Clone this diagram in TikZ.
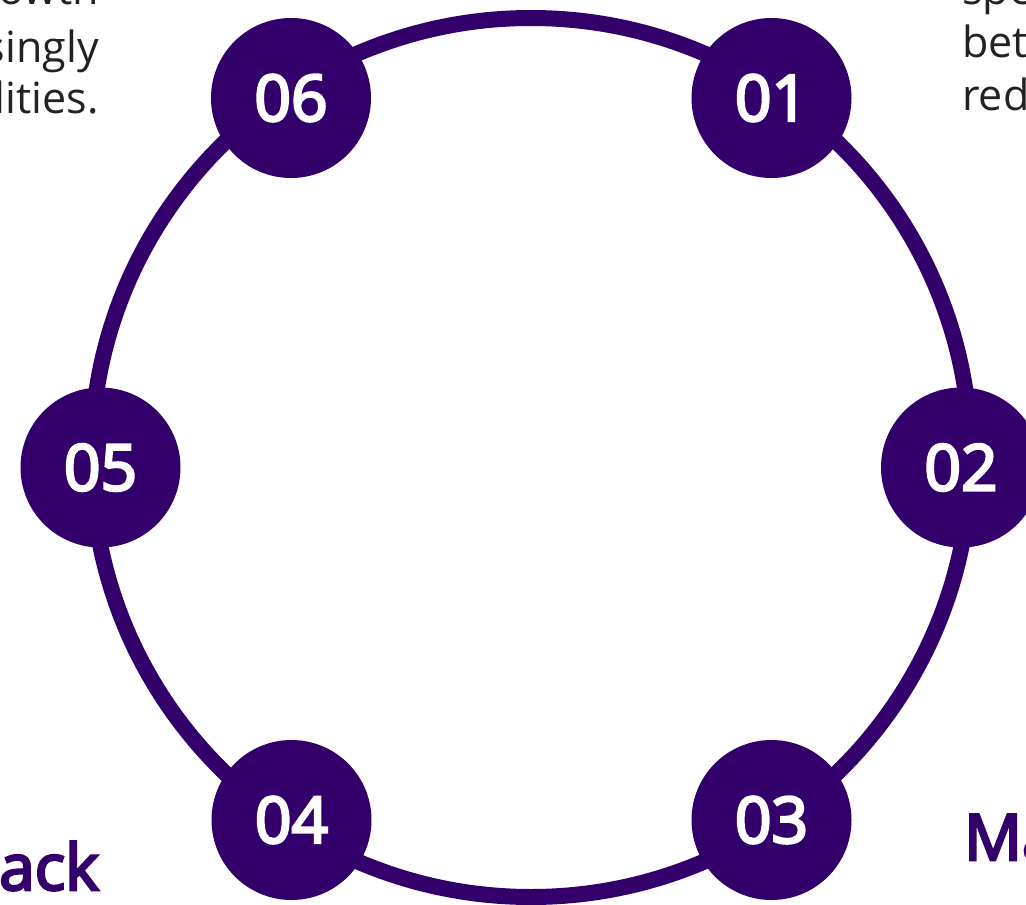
\documentclass[tikz,border=0pt]{standalone}
\usepackage{fontspec}
\setmainfont{Open Sans}
\newfontfamily\semibfont[FakeBold=4]{Open Sans}
\definecolor{ringpurple}{HTML}{33006B}
\definecolor{bodygrey}{HTML}{222222}
\begin{document}
\begin{tikzpicture}[x=1pt,y=-1pt,
  stepnode/.style={circle,fill=ringpurple,minimum size=160pt,inner sep=0pt,
    text=white,font=\semibfont\fontsize{64}{64}\selectfont},
  bodyline/.style={inner sep=0pt,text=bodygrey,font=\fontsize{43}{50}\selectfont},
  titleline/.style={inner sep=0pt,text=ringpurple,font=\semibfont\fontsize{64}{70}\selectfont}]
\useasboundingbox (0,0) rectangle (1026,905);
\coordinate (c) at (531,457.5);
\draw[ringpurple,line width=16pt] (c) circle[radius=439.5pt];
\node[stepnode] (n01) at (771.5,98) {01};
\node[stepnode] (n02) at (961,467.5) {02};
\node[stepnode] (n03) at (771.5,820) {03};
\node[stepnode] (n04) at (291.5,820) {04};
\node[stepnode] (n05) at (100.5,467.5) {05};
\node[stepnode] (n06) at (291,98) {06};
% left side texts
\node[bodyline,anchor=base east] (l1) at (99,4) {owth};
\node[bodyline,anchor=base east] (l2) at (99,62) {singly};
\node[bodyline,anchor=base east] (l3) at (99,113) {lities.};
% right side texts
\node[bodyline,anchor=base west] (r1) at (962,4) {spe};
\node[bodyline,anchor=base west] (r2) at (962,57) {bet};
\node[bodyline,anchor=base west] (r3) at (962,110) {red};
% titles
\node[titleline,anchor=base east] (t4) at (99,890) {ack};
\node[titleline,anchor=base west] (t3) at (964,860) {Ma};
\end{tikzpicture}
\end{document}
